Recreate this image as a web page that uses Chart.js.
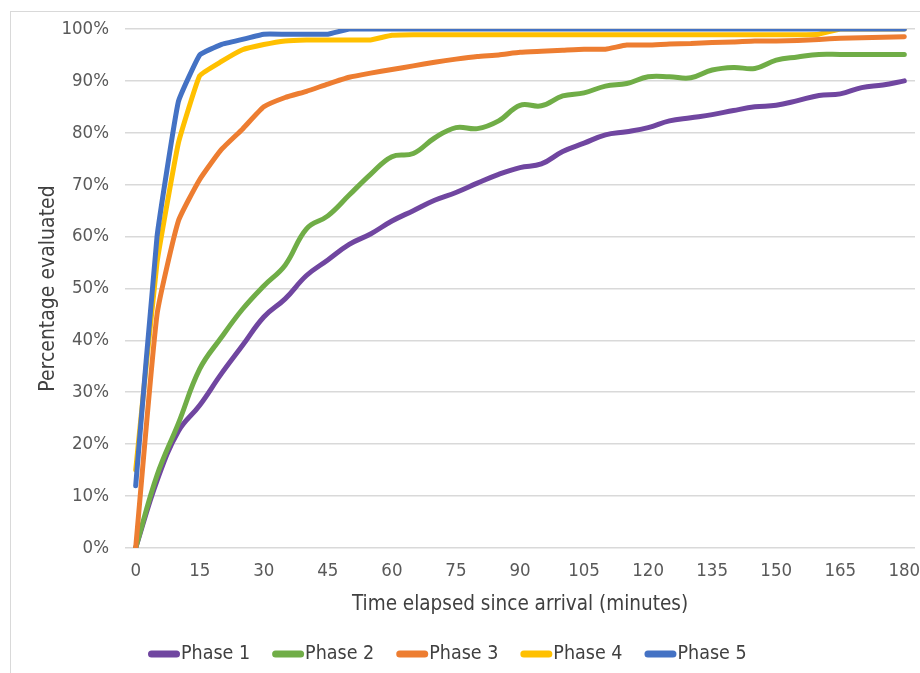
<!DOCTYPE html>
<html><head><meta charset="utf-8">
<script src="https://cdn.jsdelivr.net/npm/chart.js@4"></script>
<style>
html,body{margin:0;padding:0;background:#fff;overflow:hidden}
#wrap{position:relative;width:920px;height:673px}
#frame{position:absolute;left:10px;top:11px;width:930px;height:700px;border:1px solid #d9d9d9;box-sizing:border-box}
canvas{position:absolute;left:0;top:0}
</style></head>
<body><div id="wrap"><div id="frame"></div><canvas id="c" width="920" height="673"></canvas></div>
<script>
const minutes = [0,5,10,15,20,25,30,35,40,45,50,55,60,65,70,75,80,85,90,95,100,105,110,115,120,125,130,135,140,145,150,155,160,165,170,175,180];
const phase1 = [0,13,22.5,27.5,33.5,39,44.5,48,52.5,55.5,58.5,60.5,63,65,67,68.5,70.3,72,73.3,74,76.4,78,79.6,80.2,81,82.3,82.9,83.5,84.3,85,85.3,86.2,87.2,87.5,88.7,89.2,90];
const phase2 = [0,14,24,34.5,40.5,46,50.5,54.5,61.5,64,68,72,75.4,76,79,81,80.8,82.3,85.3,85.2,87.1,87.7,89,89.5,90.8,90.8,90.6,92.1,92.6,92.4,94,94.6,95.1,95.1,95.1,95.1,95.1];
const phase3 = [0,45,63,71,76.7,80.7,85,86.8,88,89.4,90.7,91.5,92.2,92.9,93.6,94.2,94.7,95,95.5,95.7,95.9,96.1,96.1,96.9,96.9,97.1,97.2,97.4,97.5,97.7,97.7,97.8,98,98.2,98.3,98.4,98.5];
const phase4 = [15,55,78,91,93.7,96,97,97.7,97.9,97.9,97.9,97.9,98.8,98.9,98.9,98.9,98.9,98.9,98.9,98.9,98.9,98.9,98.9,98.9,98.9,98.9,98.9,98.9,98.9,98.9,98.9,98.9,99,100,100,100,100];
const phase5 = [12,60,86,95,97,98,99,99,99,99,100,100,100,100,100,100,100,100,100,100,100,100,100,100,100,100,100,100,100,100,100,100,100,100,100,100,100];
const seriesNames = ['Phase 1','Phase 2','Phase 3','Phase 4','Phase 5'];
const seriesColors = ['#7046A0','#70AD47','#ED7D31','#FFC000','#4472C4'];
const seriesValues = [phase1, phase2, phase3, phase4, phase5];
const seriesTension = [0.4, 0.4, 0.15, 0.1, 0.1];
const xTickStep = 15;
const yTickLabels = ['0%','10%','20%','30%','40%','50%','60%','70%','80%','90%','100%'];

const FONT = '"DejaVu Sans Condensed", "DejaVu Sans", sans-serif';

// Legend drawn as line samples directly followed by the series name
const lineLegend = {
  id: 'lineLegend',
  afterDraw(chart) {
    const ctx = chart.ctx;
    ctx.save();
    ctx.font = '19.5px ' + FONT;
    ctx.textBaseline = 'middle';
    ctx.textAlign = 'left';
    let x = 148;
    const y = 654;
    chart.data.datasets.forEach(ds => {
      ctx.strokeStyle = ds.borderColor;
      ctx.lineWidth = 7;
      ctx.lineCap = 'round';
      ctx.beginPath();
      ctx.moveTo(x + 3.5, y);
      ctx.lineTo(x + 28.5, y);
      ctx.stroke();
      ctx.fillStyle = '#404040';
      ctx.fillText(ds.label, x + 33, y);
      x += 33 + ctx.measureText(ds.label).width + 22;
    });
    ctx.restore();
  }
};

const datasets = seriesNames.map((name, i) => ({
  label: name,
  data: seriesValues[i],
  borderColor: seriesColors[i],
  backgroundColor: seriesColors[i],
  borderWidth: 5,
  pointRadius: 0,
  pointHoverRadius: 0,
  tension: seriesTension[i],
  borderCapStyle: 'round',
  borderJoinStyle: 'round',
  fill: false,
  order: seriesNames.length - i
}));

new Chart(document.getElementById('c'), {
  type: 'line',
  data: { labels: minutes, datasets },
  options: {
    responsive: false,
    animation: false,
    devicePixelRatio: 1,
    layout: { padding: { left: 0, right: 5, top: 29, bottom: 38 } },
    plugins: {
      tooltip: { enabled: false },
      legend: { display: false }
    },
    scales: {
      x: {
        type: 'category',
        offset: true,
        grid: { display: false, drawTicks: false },
        border: { display: false },
        ticks: {
          autoSkip: false,
          maxRotation: 0,
          padding: 12,
          color: '#595959',
          font: { family: FONT, size: 18.5 },
          callback: function(v, i) { const m = minutes[i]; return m % xTickStep === 0 ? String(m) : null; }
        },
        title: { display: true, text: 'Time elapsed since arrival (minutes)', color: '#404040', font: { family: FONT, size: 20.5 }, padding: { top: 0, bottom: 18 } },
        afterFit(s) { s.height = 87; s.paddingLeft = 0; s.paddingRight = 0; }
      },
      y: {
        min: 0, max: 100,
        grid: { color: '#d9d9d9', lineWidth: 1.6, drawTicks: false },
        border: { display: false },
        ticks: {
          stepSize: 10, padding: 16, color: '#595959',
          font: { family: FONT, size: 18.5 },
          callback: (v) => yTickLabels[Math.round(v / 10)]
        },
        title: { display: true, text: 'Percentage evaluated', color: '#404040', font: { family: FONT, size: 21 }, padding: { top: 36, bottom: 0 } },
        afterFit(s) { s.width = 125; s.paddingTop = 0; s.paddingBottom = 0; }
      }
    }
  },
  plugins: [lineLegend]
});
</script>
</body></html>
